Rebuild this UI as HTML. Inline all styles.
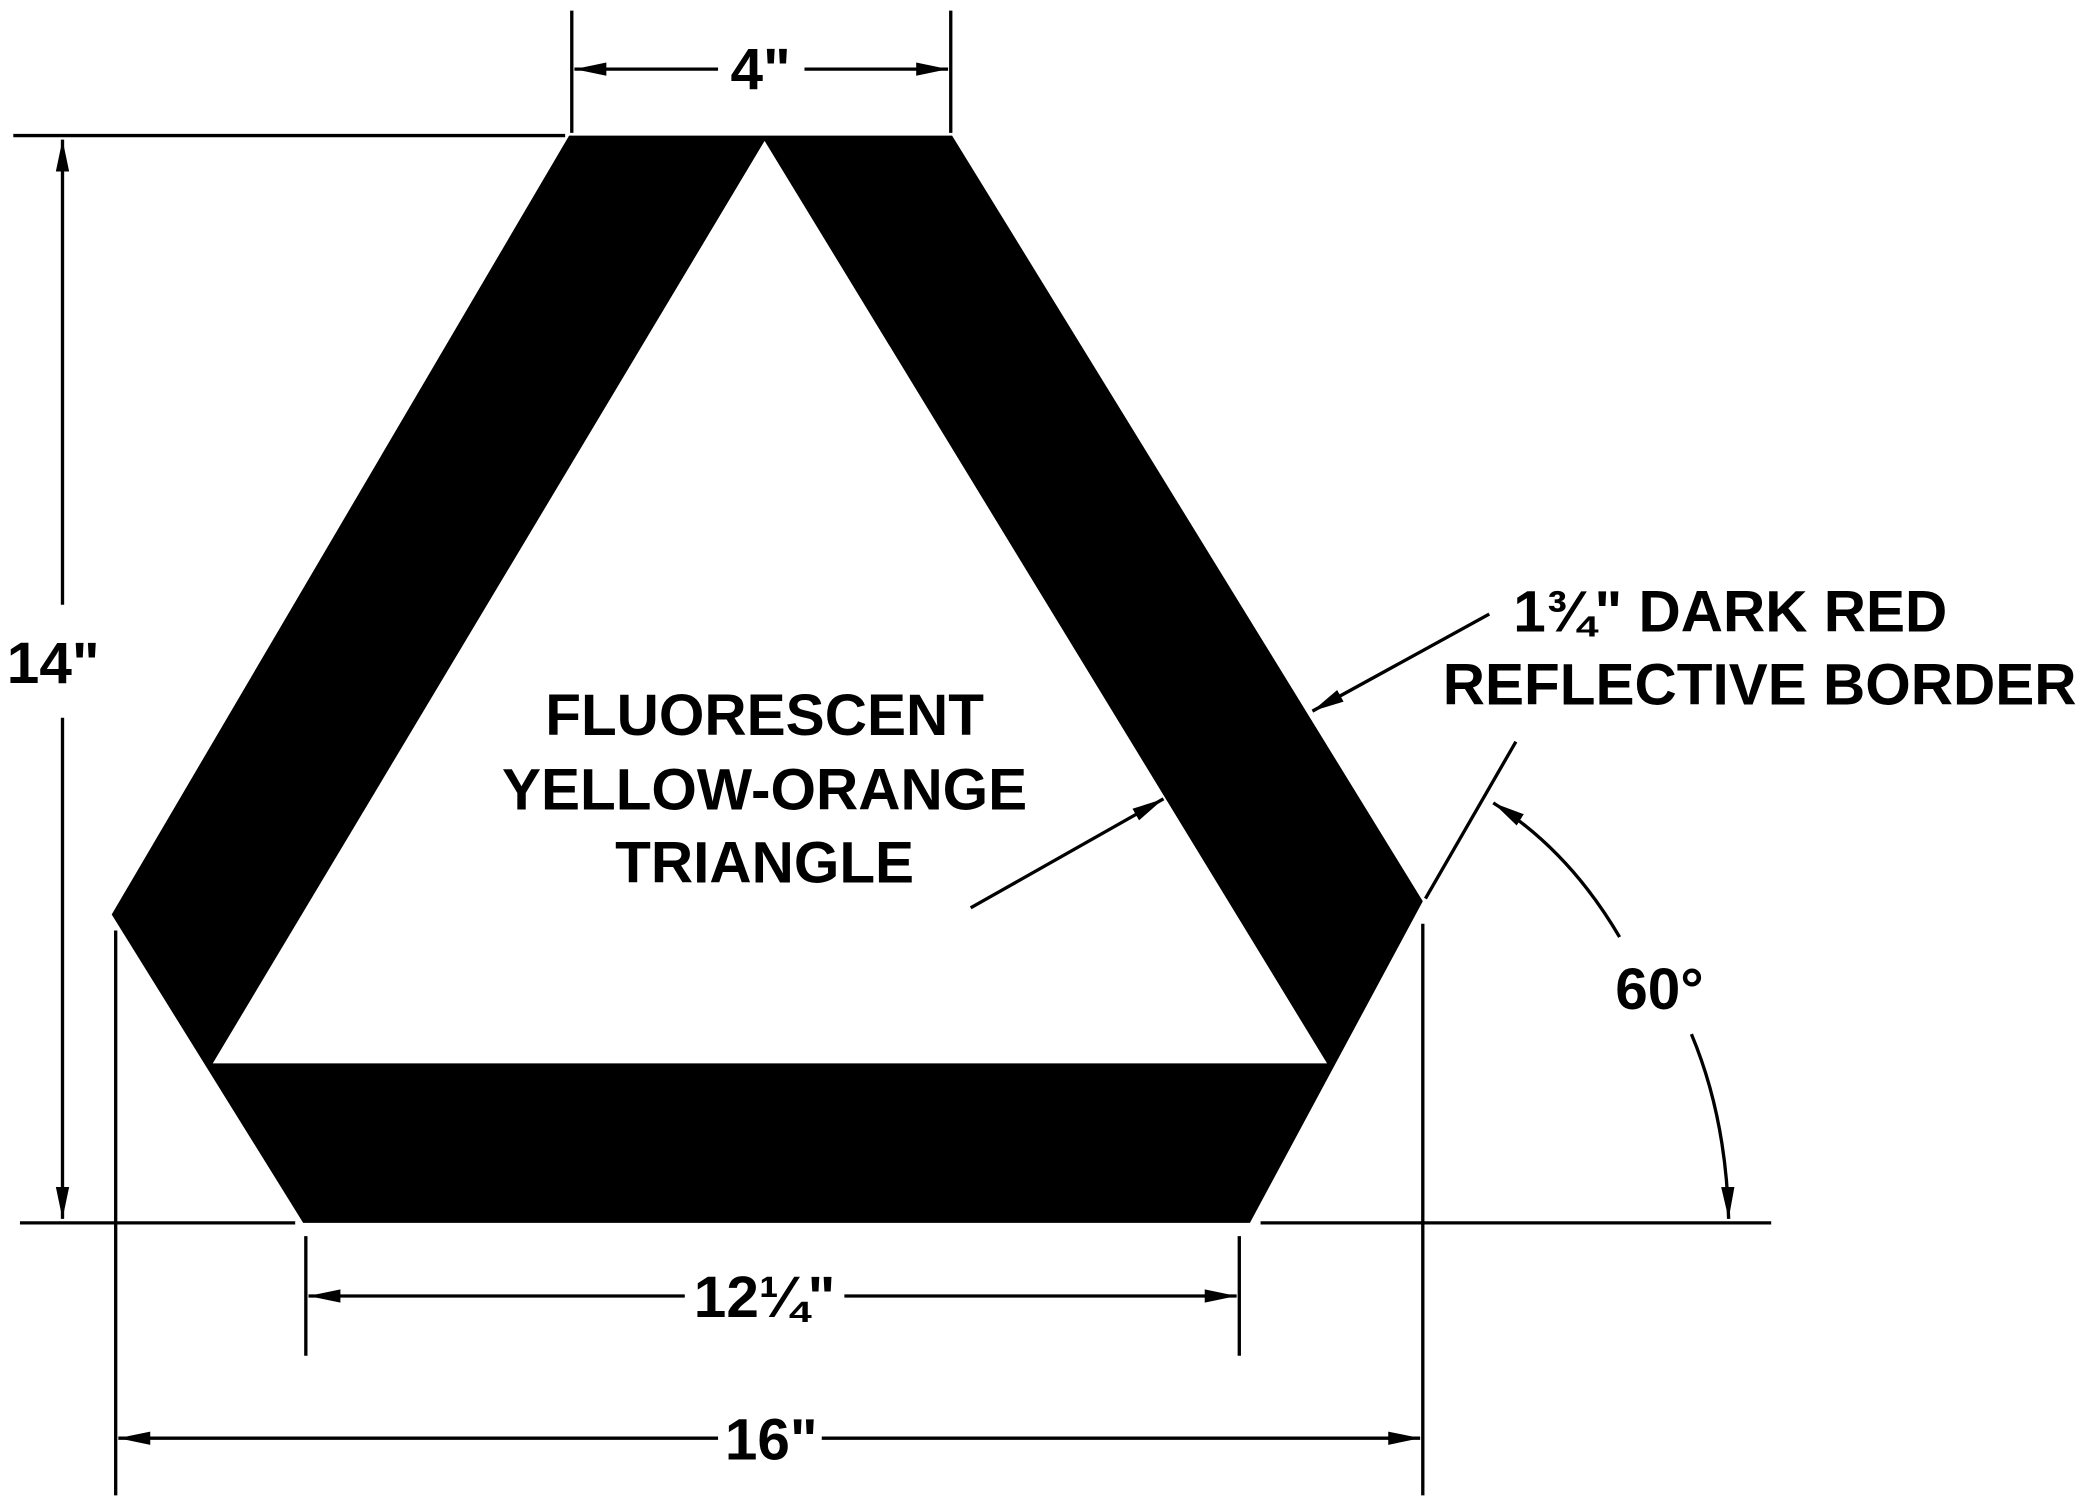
<!DOCTYPE html>
<html><head><meta charset="utf-8"><style>
html,body{margin:0;padding:0;background:#fff;}
svg{display:block;}
text{font-family:"Liberation Sans",Arial,sans-serif;font-weight:bold;fill:#000;}
</style></head><body>
<svg width="2085" height="1506" viewBox="0 0 1568 1133" preserveAspectRatio="none" xmlns="http://www.w3.org/2000/svg">
<defs>
<marker id="a" viewBox="0 0 24 11" refX="24" refY="5.5" markerWidth="24" markerHeight="11" markerUnits="userSpaceOnUse" orient="auto-start-reverse">
<path d="M0,0.5 L24,5.5 L0,10.5 Z" fill="#000"/>
</marker>
</defs>
<rect width="1568" height="1133" fill="#fff"/>
<path fill-rule="evenodd" fill="#000" d="M428,102 L716,102 L1070,678 L940,920 L228,920 L84,688 Z M575,106 L160,800 L998,800 Z"/>
<g stroke="#000" stroke-width="2.5" fill="none">
<line x1="430" y1="8" x2="430" y2="100"/>
<line x1="715" y1="8" x2="715" y2="100"/>
<line x1="432" y1="52" x2="540" y2="52" marker-start="url(#a)"/>
<line x1="605" y1="52" x2="713" y2="52" marker-end="url(#a)"/>
<line x1="10" y1="102" x2="425" y2="102"/>
<line x1="47" y1="105" x2="47" y2="455" marker-start="url(#a)"/>
<line x1="47" y1="540" x2="47" y2="917" marker-end="url(#a)"/>
<line x1="15" y1="920" x2="222" y2="920"/>
<line x1="948" y1="920" x2="1332" y2="920"/>
<line x1="230" y1="930" x2="230" y2="1020"/>
<line x1="932" y1="930" x2="932" y2="1020"/>
<line x1="232" y1="975" x2="515" y2="975" marker-start="url(#a)"/>
<line x1="635" y1="975" x2="930" y2="975" marker-end="url(#a)"/>
<line x1="87" y1="700" x2="87" y2="1125"/>
<line x1="1070" y1="695" x2="1070" y2="1125"/>
<line x1="89" y1="1082" x2="540" y2="1082" marker-start="url(#a)"/>
<line x1="618" y1="1082" x2="1068" y2="1082" marker-end="url(#a)"/>
<line x1="1072" y1="676" x2="1140" y2="558"/>
<path d="M1218,705 Q1180,640 1123,604" marker-end="url(#a)"/>
<path d="M1272,778 Q1298,840 1300,917" marker-end="url(#a)"/>
<line x1="1120" y1="462" x2="987" y2="535" marker-end="url(#a)"/>
<line x1="730" y1="683" x2="875" y2="601" marker-end="url(#a)"/>
</g>
<g font-size="44" text-anchor="middle">
<text x="572" y="67">4"</text>
<text x="40" y="514">14"</text>
<text x="575" y="991">12¼"</text>
<text x="580" y="1098">16"</text>
<text x="1248" y="759">60°</text>
<text x="575" y="553">FLUORESCENT</text>
<text x="575" y="609">YELLOW-ORANGE</text>
<text x="575" y="664">TRIANGLE</text>
</g>
<g font-size="44" text-anchor="start">
<text x="1138" y="475">1¾" DARK RED</text>
<text x="1085" y="530">REFLECTIVE BORDER</text>
</g>
</svg>
</body></html>
